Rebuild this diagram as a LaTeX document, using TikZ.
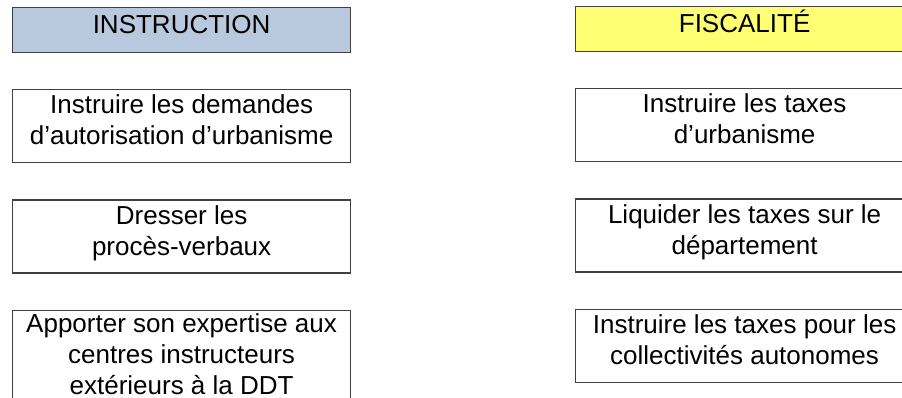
\documentclass[tikz,border=0pt]{standalone}
\usepackage{fontspec}
\setmainfont{Liberation Sans}
\usetikzlibrary{positioning}

\definecolor{instrblue}{RGB}{184,201,222}
\definecolor{fiscyellow}{RGB}{255,255,115}

\begin{document}
\begin{tikzpicture}[
    x=1pt, y=-1pt,
    node distance={36pt},
    box/.style={draw=black!75, line width=1.2pt, minimum width=338pt,
        inner sep=0pt, align=center, text height=55pt, text depth=18pt,
        font=\fontsize{26}{31}\selectfont},
    head/.style={box, text height=26pt, text depth=19pt}
]

\useasboundingbox (0,0) rectangle (902,397);
\clip (0,0) rectangle (902,397);

% instruction column
\node[head, fill=instrblue, anchor=north west] (instr) at (12,7) {INSTRUCTION};
\node[box] (instr1) [below=of instr] {Instruire les demandes\\d’autorisation d’urbanisme};
\node[box] (instr2) [below=of instr1] {Dresser les\\procès-verbaux};
\node[box, text height=84pt, text depth=12pt] (instr3) [below=of instr2] {Apporter son expertise aux\\centres instructeurs\\extérieurs à la DDT};

% fiscalite column
\node[head, fill=fiscyellow, anchor=north west] (fisc) at (575,6) {FISCALITÉ};
\node[box] (fisc1) [below=of fisc] {Instruire les taxes\\d’urbanisme};
\node[box] (fisc2) [below=of fisc1] {Liquider les taxes sur le\\département};
\node[box] (fisc3) [below=of fisc2] {Instruire les taxes pour les\\collectivités autonomes};

\end{tikzpicture}
\end{document}
